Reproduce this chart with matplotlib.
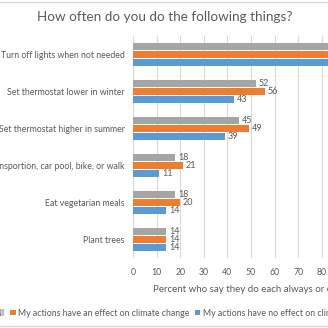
import numpy as np
import matplotlib.pyplot as plt

plt.rcParams['font.family'] = ['Lato', 'DejaVu Sans']

categories = ["Turn off lights when not needed",
              "Set thermostat lower in winter",
              "Set thermostat higher in summer",
              "Use public transportion, car pool, bike, or walk",
              "Eat vegetarian meals",
              "Plant trees"]
all_vals = [87, 52, 45, 18, 18, 14]
effect_vals = [89, 56, 49, 21, 20, 14]
no_effect_vals = [84, 43, 39, 11, 14, 14]
series_names = ["All",
                "My actions have an effect on climate change",
                "My actions have no effect on climate change"]
colors = ["#A5A5A5", "#ED7D31", "#5B9BD5"]
text_col = "#595959"

fig = plt.figure(figsize=(3.28, 3.28), dpi=100)
W = 328.0
ax = fig.add_axes([133 / W, 70 / W, 236 / W, 222 / W])

y = np.arange(len(categories))
step = 0.216
bh = 0.2
for k, (vals, name, c) in enumerate(zip([all_vals, effect_vals, no_effect_vals], series_names, colors)):
    pos = y + (k - 1) * step
    ax.barh(pos, vals, height=bh, color=c, label=name, zorder=3)
    for p, v in zip(pos, vals):
        ax.text(v + 1.2, p, str(v), va='center', ha='left', fontsize=6.5, color=text_col)

ax.set_ylim(len(categories) - 0.5, -0.5)
ax.set_xlim(0, 100)
ax.set_xticks(np.arange(0, 101, 10))
ax.set_yticks(y)
ax.set_yticklabels(categories)
ax.tick_params(axis='both', length=0, labelsize=6.3, colors=text_col)
ax.tick_params(axis='y', pad=6)
ax.tick_params(axis='x', pad=7)
ax.grid(axis='x', color='#D9D9D9', linewidth=0.8, zorder=0)
for s in ax.spines.values():
    s.set_visible(False)
ax.axvline(0, color='#D9D9D9', linewidth=0.8, zorder=1)
ax.set_xlabel("Percent who say they do each always or often", fontsize=7, color=text_col, labelpad=6)

fig.text(165 / W, 1 - 17 / W, "How often do you do the following things?", ha='center', va='center',
         fontsize=9.7, color=text_col)

h, l = ax.get_legend_handles_labels()
fig.legend(h, l, loc='center left', bbox_to_anchor=(-13 / W, 1 - 313 / W), ncol=3, frameon=False,
           fontsize=6.3, labelcolor=text_col, handlelength=0.6, handleheight=0.6,
           handletextpad=0.3, columnspacing=0.6, borderaxespad=0, borderpad=0)

fig.add_artist(plt.Line2D([0, 1], [1 - 326 / W, 1 - 326 / W], color='#D9D9D9', linewidth=1))
fig.add_artist(plt.Line2D([0, 1], [1 - 1.5 / W, 1 - 1.5 / W], color='#D9D9D9', linewidth=1))

fig.savefig("out.png", dpi=100)
